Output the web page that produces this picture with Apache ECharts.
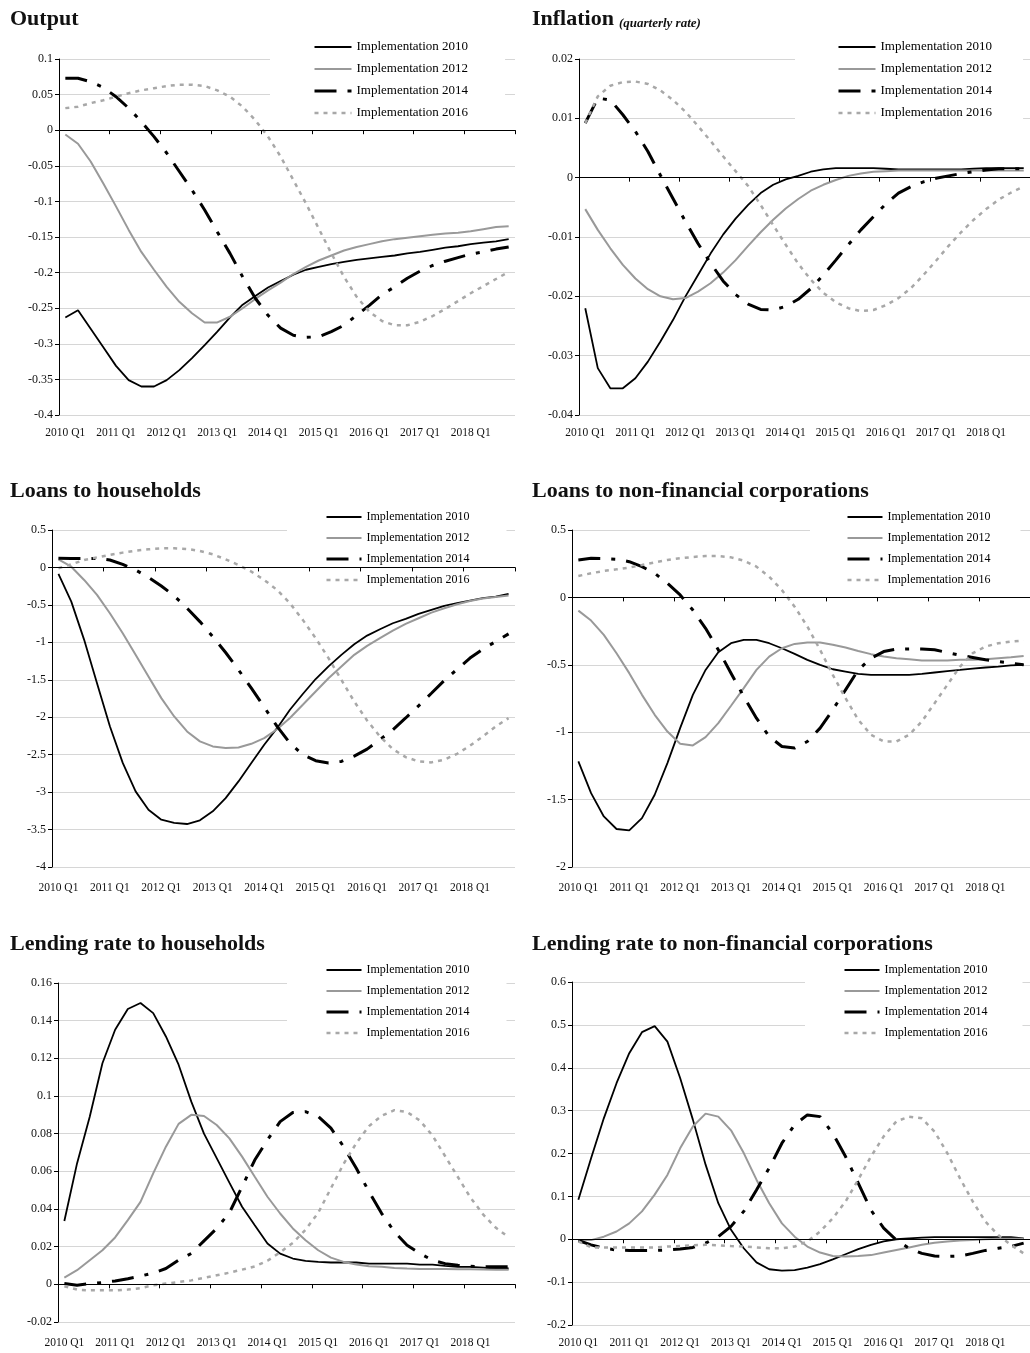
<!DOCTYPE html>
<html><head><meta charset="utf-8">
<script src="https://cdn.jsdelivr.net/npm/echarts@6/dist/echarts.min.js"></script>
<style>html,body{margin:0;padding:0;background:#fff}#c{width:1030px;height:1353px}</style>
</head><body><div id="c"></div>
<script>
const categories = ['2010 Q1','2010 Q2','2010 Q3','2010 Q4','2011 Q1','2011 Q2','2011 Q3','2011 Q4',
 '2012 Q1','2012 Q2','2012 Q3','2012 Q4','2013 Q1','2013 Q2','2013 Q3','2013 Q4',
 '2014 Q1','2014 Q2','2014 Q3','2014 Q4','2015 Q1','2015 Q2','2015 Q3','2015 Q4',
 '2016 Q1','2016 Q2','2016 Q3','2016 Q4','2017 Q1','2017 Q2','2017 Q3','2017 Q4',
 '2018 Q1','2018 Q2','2018 Q3','2018 Q4'];
const seriesNames = ['Implementation 2010','Implementation 2012','Implementation 2014','Implementation 2016'];

// Output
const output2010 = [-0.263,-0.253,-0.279,-0.305,-0.331,-0.351,-0.36,-0.36,-0.351,-0.337,-0.32,-0.302,-0.283,-0.263,-0.245,-0.233,-0.221,-0.212,-0.203,-0.196,-0.192,-0.188,-0.185,-0.182,-0.18,-0.178,-0.176,-0.173,-0.171,-0.168,-0.165,-0.163,-0.16,-0.158,-0.156,-0.153];
const output2012 = [-0.006,-0.019,-0.044,-0.075,-0.107,-0.14,-0.171,-0.196,-0.22,-0.241,-0.257,-0.27,-0.27,-0.262,-0.25,-0.237,-0.225,-0.214,-0.202,-0.192,-0.183,-0.176,-0.169,-0.164,-0.16,-0.156,-0.153,-0.151,-0.149,-0.147,-0.145,-0.144,-0.142,-0.139,-0.136,-0.135];
const output2014 = [0.073,0.073,0.068,0.06,0.047,0.031,0.012,-0.009,-0.032,-0.058,-0.084,-0.112,-0.143,-0.173,-0.206,-0.236,-0.26,-0.278,-0.288,-0.291,-0.29,-0.283,-0.274,-0.26,-0.246,-0.231,-0.22,-0.208,-0.198,-0.19,-0.184,-0.179,-0.174,-0.171,-0.167,-0.164];
const output2016 = [0.031,0.033,0.038,0.042,0.047,0.052,0.056,0.059,0.062,0.064,0.064,0.062,0.056,0.047,0.033,0.014,-0.009,-0.037,-0.07,-0.103,-0.138,-0.173,-0.206,-0.234,-0.255,-0.268,-0.274,-0.274,-0.269,-0.261,-0.251,-0.24,-0.229,-0.219,-0.209,-0.199];

// Inflation
const inflation2010 = [-0.022,-0.0321,-0.0355,-0.0355,-0.0338,-0.031,-0.0276,-0.024,-0.02,-0.0164,-0.0128,-0.0096,-0.0069,-0.0046,-0.0026,-0.0012,-0.0003,0.0003,0.001,0.0014,0.0016,0.0016,0.0016,0.0016,0.0015,0.0014,0.0014,0.0014,0.0014,0.0014,0.0014,0.0015,0.0016,0.0016,0.0016,0.0016];
const inflation2012 = [-0.0053,-0.0088,-0.0119,-0.0147,-0.017,-0.0188,-0.02,-0.0205,-0.0203,-0.0192,-0.0178,-0.016,-0.0139,-0.0115,-0.0092,-0.0071,-0.0052,-0.0036,-0.0022,-0.0012,-0.0004,0.0003,0.0007,0.001,0.0011,0.0012,0.0012,0.0012,0.0012,0.0012,0.0012,0.0012,0.0012,0.0012,0.0012,0.0012];
const inflation2014 = [0.0092,0.0134,0.0131,0.0106,0.0078,0.0044,0.0004,-0.0035,-0.0074,-0.0111,-0.0144,-0.0174,-0.0197,-0.0213,-0.0222,-0.0223,-0.0217,-0.0205,-0.0187,-0.0164,-0.0139,-0.0113,-0.0088,-0.0066,-0.0044,-0.0026,-0.0015,-0.0007,-0.0001,0.0003,0.0007,0.001,0.0013,0.0015,0.0015,0.0015];
const inflation2016 = [0.0092,0.0137,0.0155,0.0161,0.0162,0.0158,0.0147,0.0131,0.0111,0.0087,0.0062,0.0036,0.0011,-0.0014,-0.0046,-0.008,-0.0113,-0.0145,-0.0172,-0.0194,-0.021,-0.022,-0.0225,-0.0223,-0.0215,-0.0203,-0.0186,-0.0164,-0.014,-0.0115,-0.0092,-0.0071,-0.0053,-0.0037,-0.0025,-0.0015];

// Loans to households
const loansHH2010 = [-0.087,-0.456,-0.967,-1.545,-2.12,-2.61,-2.99,-3.235,-3.368,-3.41,-3.426,-3.377,-3.257,-3.08,-2.857,-2.612,-2.368,-2.146,-1.9,-1.69,-1.49,-1.32,-1.167,-1.025,-0.91,-0.825,-0.745,-0.687,-0.62,-0.567,-0.514,-0.478,-0.443,-0.41,-0.39,-0.354];
const loansHH2012 = [0.109,0.01,-0.167,-0.367,-0.612,-0.878,-1.167,-1.456,-1.745,-1.99,-2.19,-2.323,-2.39,-2.412,-2.404,-2.355,-2.28,-2.16,-2.01,-1.834,-1.656,-1.479,-1.323,-1.167,-1.047,-0.945,-0.843,-0.754,-0.678,-0.603,-0.545,-0.492,-0.447,-0.416,-0.394,-0.376];
const loansHH2014 = [0.122,0.12,0.12,0.12,0.1,0.042,-0.034,-0.131,-0.247,-0.38,-0.545,-0.723,-0.923,-1.136,-1.367,-1.612,-1.865,-2.123,-2.346,-2.5,-2.58,-2.61,-2.59,-2.52,-2.426,-2.3,-2.168,-2.01,-1.848,-1.68,-1.51,-1.36,-1.21,-1.09,-0.99,-0.887];
const loansHH2016 = [-0.011,0.042,0.1,0.135,0.167,0.198,0.224,0.242,0.255,0.255,0.247,0.22,0.175,0.109,0.033,-0.056,-0.167,-0.3,-0.478,-0.7,-0.945,-1.21,-1.5,-1.79,-2.043,-2.257,-2.426,-2.532,-2.59,-2.603,-2.568,-2.488,-2.381,-2.257,-2.123,-2.012];

// Loans to non-financial corporations
const loansNFC2010 = [-1.217,-1.452,-1.625,-1.718,-1.728,-1.637,-1.464,-1.229,-0.97,-0.723,-0.538,-0.407,-0.34,-0.315,-0.315,-0.34,-0.377,-0.419,-0.463,-0.5,-0.533,-0.55,-0.567,-0.575,-0.575,-0.575,-0.575,-0.567,-0.557,-0.547,-0.538,-0.528,-0.52,-0.513,-0.505,-0.5];
const loansNFC2012 = [-0.098,-0.172,-0.278,-0.414,-0.562,-0.723,-0.871,-0.995,-1.086,-1.098,-1.037,-0.933,-0.804,-0.673,-0.538,-0.439,-0.377,-0.345,-0.335,-0.335,-0.352,-0.372,-0.397,-0.421,-0.439,-0.451,-0.459,-0.468,-0.468,-0.468,-0.463,-0.463,-0.459,-0.451,-0.444,-0.434];
const loansNFC2014 = [0.278,0.29,0.288,0.283,0.265,0.228,0.179,0.105,0.018,-0.094,-0.229,-0.389,-0.562,-0.735,-0.896,-1.032,-1.106,-1.118,-1.069,-0.97,-0.834,-0.686,-0.538,-0.451,-0.402,-0.384,-0.382,-0.382,-0.389,-0.409,-0.429,-0.446,-0.463,-0.476,-0.488,-0.5];
const loansNFC2016 = [0.159,0.179,0.196,0.208,0.221,0.24,0.26,0.278,0.29,0.3,0.307,0.307,0.297,0.273,0.228,0.154,0.054,-0.069,-0.216,-0.389,-0.575,-0.748,-0.908,-1.019,-1.069,-1.069,-1.019,-0.92,-0.785,-0.649,-0.513,-0.414,-0.365,-0.34,-0.328,-0.32];

// Lending rate to households
const rateHH2010 = [0.0336,0.0642,0.089,0.1174,0.1352,0.1462,0.1494,0.144,0.1316,0.1166,0.097,0.08,0.067,0.054,0.0412,0.0314,0.0217,0.0163,0.0137,0.0125,0.0119,0.0116,0.0116,0.0116,0.011,0.011,0.011,0.011,0.0105,0.0105,0.0098,0.0093,0.0093,0.0089,0.0084,0.0084];
const rateHH2012 = [0.0036,0.0075,0.0128,0.0181,0.0249,0.0341,0.0438,0.0589,0.0731,0.0852,0.09,0.0894,0.0846,0.0775,0.0678,0.0571,0.0465,0.0376,0.0297,0.0234,0.0181,0.0142,0.0119,0.0105,0.0096,0.0093,0.0087,0.0084,0.0082,0.0082,0.0081,0.008,0.008,0.0079,0.0078,0.0078];
const rateHH2014 = [0.0004,-0.0005,0.0004,0.0009,0.0018,0.003,0.0044,0.006,0.0084,0.0128,0.0164,0.0231,0.0297,0.038,0.0518,0.066,0.0767,0.0864,0.0912,0.0917,0.0891,0.0829,0.0731,0.0616,0.0492,0.0376,0.0279,0.0208,0.0164,0.0128,0.011,0.0101,0.0096,0.0093,0.0093,0.0093];
const rateHH2016 = [-0.001,-0.0028,-0.0032,-0.0032,-0.0032,-0.0028,-0.002,-0.0005,0.0004,0.0012,0.0021,0.0034,0.0048,0.0062,0.0078,0.0095,0.0125,0.017,0.022,0.029,0.038,0.051,0.064,0.075,0.084,0.0895,0.0925,0.0915,0.087,0.079,0.068,0.057,0.046,0.037,0.03,0.025];

// Lending rate to non-financial corporations
const rateNFC2010 = [0.092,0.189,0.282,0.364,0.434,0.483,0.497,0.461,0.376,0.279,0.174,0.084,0.022,-0.021,-0.054,-0.07,-0.073,-0.072,-0.066,-0.058,-0.047,-0.035,-0.023,-0.013,-0.005,0,0.002,0.004,0.005,0.005,0.005,0.005,0.005,0.005,0.005,0.002];
const rateNFC2012 = [-0.002,-0.002,0.006,0.018,0.037,0.065,0.104,0.15,0.212,0.263,0.293,0.286,0.254,0.201,0.139,0.084,0.037,0.006,-0.017,-0.031,-0.039,-0.04,-0.039,-0.037,-0.031,-0.025,-0.019,-0.013,-0.008,-0.005,-0.003,-0.002,0,0.001,0.001,0.001];
const rateNFC2014 = [-0.003,-0.013,-0.021,-0.025,-0.026,-0.026,-0.026,-0.025,-0.023,-0.019,-0.009,0.006,0.03,0.065,0.115,0.166,0.224,0.267,0.29,0.286,0.247,0.193,0.131,0.068,0.026,-0.002,-0.021,-0.033,-0.039,-0.04,-0.039,-0.033,-0.026,-0.021,-0.017,-0.009];
const rateNFC2016 = [-0.005,-0.019,-0.019,-0.019,-0.019,-0.019,-0.019,-0.017,-0.016,-0.014,-0.013,-0.014,-0.016,-0.017,-0.019,-0.021,-0.021,-0.017,-0.005,0.018,0.049,0.088,0.139,0.193,0.24,0.275,0.286,0.282,0.251,0.201,0.142,0.088,0.041,0.01,-0.013,-0.033];

const FONT = 'Liberation Serif';
const lineStyles = [
  {color: '#000', width: 1.8, type: 'solid'},
  {color: '#999', width: 2, type: 'solid'},
  {color: '#000', width: 3, type: [22, 11, 4, 11]},
  {color: '#a8a8a8', width: 2.5, type: [4, 5]}
];

const panels = [
  {title: '{a|Output}', series: [output2010, output2012, output2014, output2016], min: -0.4, max: 0.1, interval: 0.05,
   grid: {left: 59, top: 59, width: 456, height: 356}, tl: 10, tt: 5, margin: 12,
   lg: {left: 270, top: 35, itemWidth: 37, gap: 8, font: 13, pad: [5, 37, 3, 43]}},
  {title: '{a|Inflation} {b|(quarterly rate)}', series: [inflation2010, inflation2012, inflation2014, inflation2016], min: -0.04, max: 0.02, interval: 0.01,
   grid: {left: 579, top: 59, width: 454, height: 356}, tl: 532, tt: 5, margin: 12,
   lg: {left: 795, top: 35, itemWidth: 37, gap: 8, font: 13, pad: [5, 31, 3, 42]}},
  {title: '{a|Loans to households}', series: [loansHH2010, loansHH2012, loansHH2014, loansHH2016], min: -4, max: 0.5, interval: 0.5,
   grid: {left: 52, top: 530, width: 463, height: 337}, tl: 10, tt: 477, margin: 15,
   lg: {left: 287, top: 503, itemWidth: 35, gap: 7, font: 12, pad: [7, 37, 3, 38]}},
  {title: '{a|Loans to non-financial corporations}', series: [loansNFC2010, loansNFC2012, loansNFC2014, loansNFC2016], min: -2, max: 0.5, interval: 0.5,
   grid: {left: 572, top: 530, width: 463, height: 337}, tl: 532, tt: 477, margin: 15,
   lg: {left: 810, top: 503, itemWidth: 35, gap: 7, font: 12, pad: [7, 30, 3, 36]}},
  {title: '{a|Lending rate to households}', series: [rateHH2010, rateHH2012, rateHH2014, rateHH2016], min: -0.02, max: 0.16, interval: 0.02,
   grid: {left: 58, top: 983, width: 457, height: 339}, tl: 10, tt: 930, margin: 15,
   lg: {left: 287, top: 956, itemWidth: 35, gap: 7, font: 12, pad: [7, 37, 3, 38]}},
  {title: '{a|Lending rate to non-financial corporations}', series: [rateNFC2010, rateNFC2012, rateNFC2014, rateNFC2016], min: -0.2, max: 0.6, interval: 0.1,
   grid: {left: 572, top: 982, width: 463, height: 343}, tl: 532, tt: 930, margin: 12,
   lg: {left: 805, top: 956, itemWidth: 35, gap: 7, font: 12, pad: [7, 35, 3, 38]}}
];

const option = {animation: false, backgroundColor: '#fff', title: [], grid: [], xAxis: [], yAxis: [], legend: [], series: []};
panels.forEach((p, k) => {
  option.title.push({
    text: p.title, left: p.tl, top: p.tt, padding: 0,
    textStyle: {rich: {
      a: {fontFamily: FONT, fontWeight: 'bold', fontSize: 22, color: '#111', verticalAlign: 'bottom', lineHeight: 25},
      b: {fontFamily: FONT, fontStyle: 'italic', fontSize: 13, color: '#111', verticalAlign: 'bottom', lineHeight: 21}
    }}
  });
  option.grid.push(Object.assign({containLabel: false}, p.grid));
  option.xAxis.push({
    type: 'category', gridIndex: k, data: categories, position: 'bottom', boundaryGap: true,
    axisLine: {show: false, onZero: false}, axisTick: {show: false}, splitLine: {show: false},
    axisLabel: {interval: 3, margin: p.margin, fontFamily: FONT, fontSize: 11.5, color: '#111'}
  });
  option.xAxis.push({
    type: 'category', gridIndex: k, data: categories, position: 'top', boundaryGap: true, z: 10,
    axisLine: {show: true, onZero: true, lineStyle: {color: '#000', width: 1}},
    axisTick: {show: true, interval: 3, inside: true, length: 4, lineStyle: {color: '#000'}},
    axisLabel: {show: false}, splitLine: {show: false}
  });
  option.yAxis.push({
    type: 'value', gridIndex: k, min: p.min, max: p.max, interval: p.interval,
    axisLine: {show: true, onZero: false, lineStyle: {color: '#000', width: 1}},
    axisTick: {show: true, length: 4, lineStyle: {color: '#000'}},
    axisLabel: {margin: 6, fontFamily: FONT, fontSize: 12, color: '#111'},
    splitLine: {show: true, lineStyle: {color: '#d6d6d6', width: 1}}
  });
  option.legend.push({
    orient: 'vertical', left: p.lg.left, top: p.lg.top, padding: p.lg.pad,
    backgroundColor: '#fff', selectedMode: false, data: seriesNames,
    itemWidth: p.lg.itemWidth, itemHeight: 14, itemGap: p.lg.gap,
    itemStyle: {opacity: 0}, lineStyle: {width: 'inherit'},
    textStyle: {fontFamily: FONT, fontSize: p.lg.font, lineHeight: 14, color: '#000'}
  });
  p.series.forEach((values, j) => {
    option.series.push({
      name: seriesNames[j], type: 'line', xAxisIndex: 2 * k, yAxisIndex: k,
      data: values, symbol: 'none', smooth: false, z: 2 + j,
      lineStyle: lineStyles[j], itemStyle: {color: lineStyles[j].color}
    });
  });
});
const chart = echarts.init(document.getElementById('c'), null, {renderer: 'canvas'});
chart.setOption(option);
</script></body></html>
